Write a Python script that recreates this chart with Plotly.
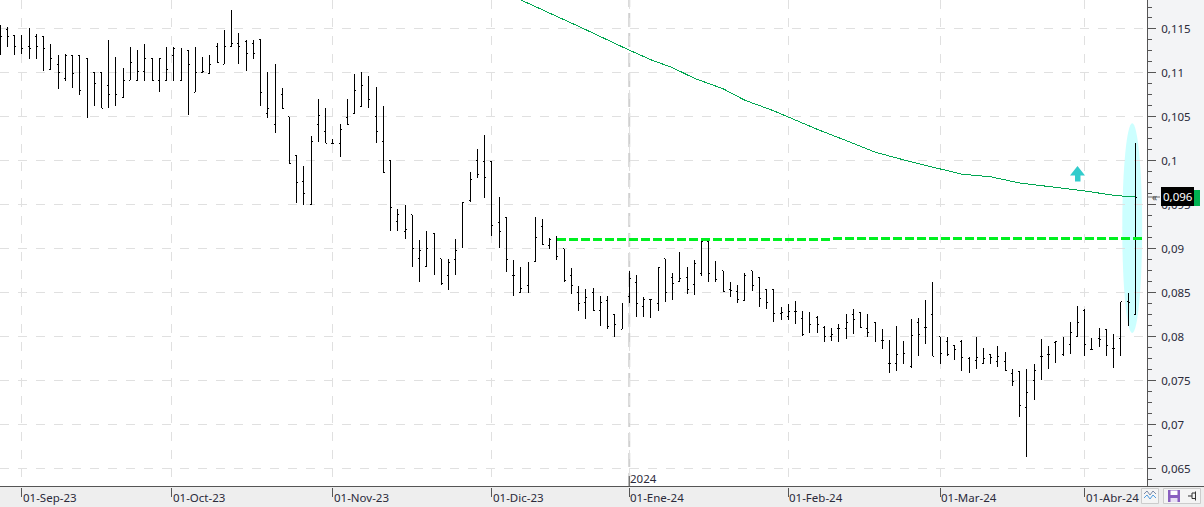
import plotly.graph_objects as go

# prices in ten-thousandths
high_e4 = [1155,1152,1143,1143,1151,1144,1141,1133,1120,1122,
1120,1120,1117,1101,1101,1138,1118,1106,1130,1126,
1133,1117,1117,1130,1130,1128,1126,1130,1118,1120,
1134,1149,1172,1146,1138,1138,1138,1101,1110,1083,
1050,1006,994,1028,1070,1060,1025,1042,1070,1099,
1101,1097,1084,1062,1000,946,
950,939,910,920,918,889,889,911,953,988,
1014,1030,999,959,936,888,880,885,936,934,
912,914,900,878,858,855,856,846,847,825,
839,875,871,845,843,879,889,873,897,880,
887,909,909,886,875,863,859,873,875,868,
854,854,834,838,841,
830,828,824,812,810,815,826,832,828,826,
817,809,797,812,795,820,822,842,862,800,
800,790,797,777,800,788,780,790,783,764,
761,764,769,798,790,795,800,817,835,832,
799,810,809,803,840,850,1020]
low_e4 = [1120,1130,1120,1122,1116,1116,1102,1104,1082,1091,
1083,1075,1049,1062,1060,1060,1062,1072,1092,1091,
1091,1091,1078,1091,1091,1091,1052,1078,1101,1099,
1112,1110,1130,1110,1102,1116,1062,1049,1032,1060,
997,952,950,950,1022,1020,1020,1004,1041,1054,
1062,1060,1020,987,921,921,
911,880,863,880,871,859,853,870,901,953,
981,958,915,901,874,846,850,850,885,904,
900,887,863,849,829,820,830,813,809,800,
809,839,823,823,822,829,840,842,863,849,
848,869,863,863,851,845,839,842,852,834,
832,817,819,819,815,
801,805,805,794,795,794,798,803,810,800,
794,786,759,761,769,765,778,792,778,769,
778,774,761,759,764,769,769,766,761,744,
709,664,728,751,764,770,778,781,800,778,
785,789,778,765,778,812,825]
open_e4 = [1124,1149,1143,1141,1130,1141,1141,1104,1110,1094,
1120,1120,1117,1101,1101,1086,1070,1072,1092,1091,
1102,1117,1091,1091,1120,1091,1126,1078,1101,1099,
1130,1110,1130,1133,1136,1133,1138,1054,1041,1076,
1050,1006,977,950,1041,1033,1020,1020,1049,1054,
1062,1096,1050,1022,1000,931,
920,939,889,880,918,889,870,888,910,955,
1000,999,999,930,936,870,850,859,886,925,
904,914,900,870,850,839,850,830,842,825,
809,846,862,835,843,838,889,868,863,868,
860,872,909,880,875,854,852,842,875,868,
854,854,827,823,829,
821,813,822,811,801,810,810,825,828,810,
817,796,770,770,790,766,817,811,825,800,
795,790,795,776,773,770,780,772,772,759,
761,720,750,778,780,794,780,792,800,830,
786,798,809,787,798,840,825]
close_e4 = [1141,1141,1130,1128,1128,1130,1128,1117,1101,1120,
1099,1080,1068,1088,1060,1076,1075,1091,1112,1102,
1117,1091,1117,1104,1128,1092,1110,1101,1102,1110,
1112,1130,1134,1130,1122,1122,1078,1060,1076,1060,
997,976,963,1022,1052,1020,1020,1036,1041,1080,
1086,1070,1033,987,947,939,
922,900,898,900,889,861,885,898,953,979,
985,981,927,920,888,870,855,880,913,905,
911,891,864,858,838,845,830,839,812,814,
836,866,838,843,843,879,851,861,867,854,
884,909,872,865,852,853,843,870,859,844,
839,827,828,829,829,
803,814,814,801,803,810,817,820,811,805,
810,796,770,780,781,802,803,811,778,781,
780,786,777,765,777,776,777,778,762,749,
722,737,762,778,780,795,781,805,817,791,
786,797,790,787,840,839,959]

ma_index = [72,75,80,87,90,93,96,100,103,107,113,118,121,126,130,133,137,141,146,150,154,157]
ma_e4 = [1183,1172,1153,1126,1115,1106,1094,1082,1069,1057,1036,1020,1010,999,991,985,982,975,970,966,961,959]

level_a_x = [77, 114.8]
level_a = [0.0911, 0.0911]
level_b_x = [115.15, 157.95]
level_b = [0.0912, 0.0912]

date_ticks = [3, 23.7, 46, 68, 87, 109, 130, 150]
date_labels = ["01-Sep-23","01-Oct-23","01-Nov-23","01-Dic-23","01-Ene-24","01-Feb-24","01-Mar-24","01-Abr-24"]
price_ticks = [0.065,0.07,0.075,0.08,0.085,0.09,0.095,0.1,0.105,0.11,0.115]
price_labels = ["0,065","0,07","0,075","0,08","0,085","0,09","0,095","0,1","0,105","0,11","0,115"]
last_price_label = "0,096"
year_label = "2024"

W, H, PW, PH = 1204, 507, 1147, 487
FONT = "Noto Sans"
FS = 11.5
TXT = "#2A2A3A"

def e4(a):
    return [v / 10000 for v in a]
def px(x):
    return x / PW
def py(y):
    return (PH - y) / PH
def rect(x0, y0, x1, y1, fill, line=None, layer="above"):
    return dict(type="rect", xref="paper", yref="paper", x0=px(x0), x1=px(x1), y0=py(y0), y1=py(y1),
                fillcolor=fill, line=dict(color=line or fill, width=1 if line else 0), layer=layer)
def poly(points, fill=None, line=None, width=1, close=True):
    d = "M " + " L ".join(f"{px(a):.5f},{py(b):.5f}" for a, b in points) + (" Z" if close else "")
    return dict(type="path", xref="paper", yref="paper", path=d, fillcolor=fill or "rgba(0,0,0,0)",
                line=dict(color=line or "rgba(0,0,0,0)", width=width if line else 0), layer="above")

fig = go.Figure()
fig.add_trace(go.Ohlc(x=list(range(len(high_e4))), open=e4(open_e4), high=e4(high_e4), low=e4(low_e4), close=e4(close_e4),
                      increasing=dict(line=dict(color="black", width=1)),
                      decreasing=dict(line=dict(color="black", width=1)),
                      tickwidth=0.2, showlegend=False))
fig.add_trace(go.Scatter(x=ma_index, y=e4(ma_e4), mode="lines", line=dict(color="#00A651", width=1), showlegend=False))
for lx, ly in ((level_a_x, level_a), (level_b_x, level_b)):
    fig.add_trace(go.Scatter(x=lx, y=ly, mode="lines", line=dict(color="#00F020", width=3, dash="9px,3px"), showlegend=False))

shapes = [
    rect(0, 487, W, H, "#EEEEEE", layer="below"),
    dict(type="circle", xref="x", yref="y", x0=155.2, x1=157.95, y0=0.08045, y1=0.1043,
         fillcolor="#CCFFFF", line=dict(width=0), layer="below"),
    dict(type="line", xref="x", yref="paper", x0=87, x1=87, y0=0, y1=1,
         line=dict(color="#D0D0D0", width=2, dash="14px,6px"), layer="below"),
    poly([(1070,175.5),(1077.5,166),(1085,175.5),(1080.5,175.5),(1080.5,181.5),(1075,181.5),(1075,175.5)], fill="#33CCCC"),
    rect(0, 486, W, 487, "#555555"),
    dict(type="line", xref="x", yref="paper", x0=87, x1=87, y0=py(476), y1=py(487),
         line=dict(color="#555555", width=1), layer="above"),
    # last price flag
    poly([(1147,197),(1160,197)], line="#666666", width=1, close=False),
    rect(1161, 190, 1200, 206, "#00B050"),
    rect(1161, 187, 1194, 206, "#000000"),
    # toolbar
    rect(1141.5, 488.5, 1158.5, 503.5, "#F4F4F4", "#CCCCCC"),
    poly([(1144,494),(1147,491),(1150,495),(1153,491),(1156,494)], line="#7A8AA8", width=1, close=False),
    poly([(1144,498),(1147,495),(1150,499),(1153,495),(1156,498)], line="#4E9BE0", width=1, close=False),
    rect(1163.5, 488.5, 1200.5, 503.5, "#F4F4F4", "#CCCCCC"),
    rect(1168, 490, 1180, 502, "#8A5FC0"),
    rect(1170.5, 490.5, 1177.5, 495, "#FFFFFF"),
    rect(1170.5, 498, 1177.5, 502, "#E8E0F4"),
    poly([(1188,496),(1192,496)], line="#333333", width=1, close=False),
    rect(1192, 493, 1195.5, 498.5, "#F4F4F4", "#333333"),
    poly([(1195.5,491.5),(1195.5,500.5)], line="#333333", width=1, close=False),
]

ann = [dict(x=t, y=py(497), xref="x", yref="paper", text=l, showarrow=False, xanchor="left", yanchor="middle", xshift=-1,
            font=dict(family=FONT, size=FS, color=TXT)) for t, l in zip(date_ticks, date_labels)]
ann.append(dict(x=87, y=py(478), xref="x", yref="paper", text=year_label, showarrow=False, xanchor="left", yanchor="middle",
                xshift=-1, font=dict(family=FONT, size=FS, color=TXT)))
ann.append(dict(x=px(1177.5), y=py(197), xref="paper", yref="paper", text=last_price_label, showarrow=False,
                xanchor="center", yanchor="middle", font=dict(family=FONT, size=FS, color="#FFFFFF")))
ann.append(dict(x=px(1154), y=py(197), xref="paper", yref="paper", text="«", showarrow=False,
                xanchor="center", yanchor="middle", font=dict(family=FONT, size=10, color="#444444")))

fig.update_layout(
    width=W, height=H, margin=dict(l=0, r=W - PW, t=0, b=H - PH, pad=0), autosize=False,
    paper_bgcolor="#F3F4F6", plot_bgcolor="#FFFFFF", shapes=shapes, annotations=ann, hovermode=False,
    font=dict(family=FONT, size=FS, color=TXT),
    xaxis=dict(range=[-0.04, 158.62], rangeslider=dict(visible=False), tickmode="array", tickvals=date_ticks, ticktext=[""] * 8,
               showgrid=True, gridcolor="#E0E0E0", griddash="dash", gridwidth=1, ticks="outside", ticklen=9, tickcolor="#555555",
               tickwidth=1, zeroline=False, showline=False),
    yaxis=dict(range=[0.06295, 0.118295], side="right", tickmode="array", tickvals=price_ticks, ticktext=price_labels,
               showgrid=True, gridcolor="#E0E0E0", griddash="dash", gridwidth=1, ticks="outside", ticklen=8, tickcolor="#555555",
               tickwidth=1, zeroline=False, showline=True, linecolor="#555555", linewidth=1,
               tickfont=dict(family=FONT, size=FS, color=TXT), ticklabelstandoff=3,
               minor=dict(tickmode="linear", tick0=0.065, dtick=0.00125, ticks="outside", ticklen=4, tickcolor="#555555", showgrid=False)),
)
crisp = ("document.body.style.margin='0';document.body.style.overflow='hidden';"
         "document.querySelectorAll('.ohlc path, .scatterlayer path.js-line').forEach(function(p){p.style.shapeRendering='crispEdges';});")
fig.write_html("out.html", config=dict(displayModeBar=False), post_script=crisp)
